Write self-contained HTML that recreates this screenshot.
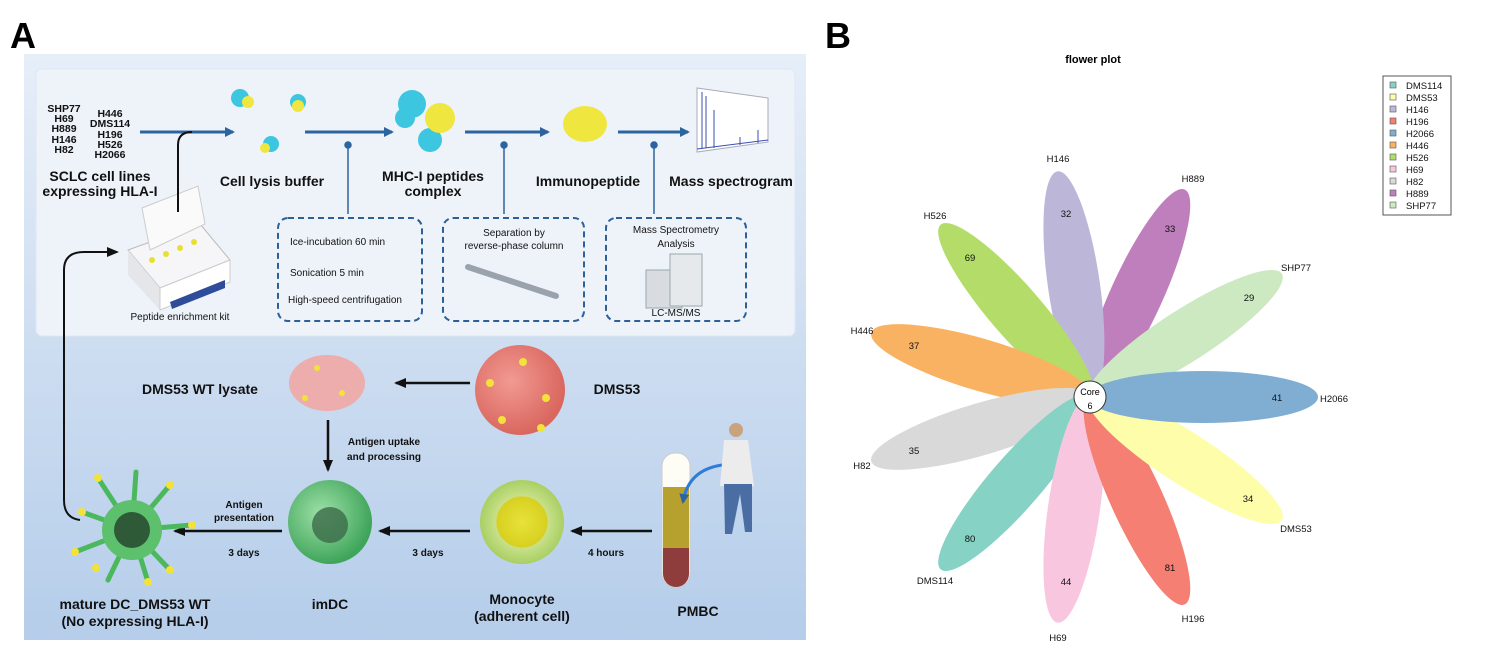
<!DOCTYPE html>
<html><head><meta charset="utf-8"><style>
html,body{margin:0;padding:0;background:#fff;width:1488px;height:651px;overflow:hidden}
svg{display:block;font-family:"Liberation Sans",Arial,sans-serif}
.b{font-weight:bold}
</style></head><body>
<svg width="1488" height="651" viewBox="0 0 1488 651" xmlns="http://www.w3.org/2000/svg">
<defs>
<linearGradient id="bg" x1="0" y1="0" x2="0" y2="1"><stop offset="0" stop-color="#e6eef8"/><stop offset="1" stop-color="#b5cdea"/></linearGradient>
<radialGradient id="dms" cx="0.4" cy="0.4" r="0.6"><stop offset="0" stop-color="#f29a92"/><stop offset="1" stop-color="#d9675f"/></radialGradient>
<radialGradient id="grn" cx="0.4" cy="0.4" r="0.6"><stop offset="0" stop-color="#9fe0a8"/><stop offset="1" stop-color="#3fa55a"/></radialGradient>
<radialGradient id="mono" cx="0.5" cy="0.5" r="0.5"><stop offset="0" stop-color="#e8e23a"/><stop offset="0.6" stop-color="#d8d020"/><stop offset="0.62" stop-color="#c8e08a"/><stop offset="1" stop-color="#a9cf63"/></radialGradient>
<marker id="ab" markerWidth="10" markerHeight="10" refX="8" refY="5" orient="auto" markerUnits="userSpaceOnUse"><path d="M0,0 L10,5 L0,10 z" fill="#2d64a0"/></marker>
<marker id="ak" markerWidth="12" markerHeight="12" refX="10" refY="6" orient="auto" markerUnits="userSpaceOnUse"><path d="M0,1 L12,6 L0,11 z" fill="#111"/></marker>
</defs>
<text x="10" y="48" class="b" font-size="36">A</text>
<text x="825" y="48" class="b" font-size="36">B</text>
<rect x="24" y="54" width="782" height="586" fill="url(#bg)"/>
<rect x="36" y="69" width="759" height="267" rx="6" fill="#eef3fa" stroke="#dfe7f1"/>
<g font-size="10.5" class="b" text-anchor="middle" fill="#111">
<text x="64" y="112">SHP77</text><text x="64" y="122">H69</text><text x="64" y="132">H889</text><text x="64" y="143">H146</text><text x="64" y="153">H82</text>
<text x="110" y="117">H446</text><text x="110" y="127">DMS114</text><text x="110" y="138">H196</text><text x="110" y="148">H526</text><text x="110" y="158">H2066</text>
</g>
<g font-size="14" class="b" text-anchor="middle" fill="#111">
<text x="100" y="181">SCLC cell lines</text><text x="100" y="196">expressing HLA-I</text>
<text x="272" y="186">Cell lysis buffer</text>
<text x="433" y="181">MHC-I peptides</text><text x="433" y="196">complex</text>
<text x="588" y="186">Immunopeptide</text>
<text x="731" y="186">Mass spectrogram</text>
</g>
<g stroke="#2d64a0" stroke-width="3" marker-end="url(#ab)">
<line x1="140" y1="132" x2="233" y2="132"/><line x1="305" y1="132" x2="392" y2="132"/>
<line x1="465" y1="132" x2="548" y2="132"/><line x1="618" y1="132" x2="688" y2="132"/>
</g>
<g stroke="#2d64a0" stroke-width="1.5" fill="#2d64a0">
<line x1="348" y1="145" x2="348" y2="214"/><circle cx="348" cy="145" r="3"/>
<line x1="504" y1="145" x2="504" y2="214"/><circle cx="504" cy="145" r="3"/>
<line x1="654" y1="145" x2="654" y2="214"/><circle cx="654" cy="145" r="3"/>
</g>
<g fill="none" stroke="#2d5f98" stroke-width="2" stroke-dasharray="6,4">
<rect x="278" y="218" width="144" height="103" rx="10"/>
<rect x="443" y="218" width="141" height="103" rx="10"/>
<rect x="606" y="218" width="140" height="103" rx="10"/>
</g>
<g font-size="10" fill="#111">
<text x="290" y="245">Ice-incubation 60 min</text>
<text x="290" y="276">Sonication 5 min</text>
<text x="288" y="303">High-speed centrifugation</text>
<text x="514" y="236" text-anchor="middle">Separation by</text>
<text x="514" y="249" text-anchor="middle">reverse-phase column</text>
<text x="676" y="233" text-anchor="middle">Mass Spectrometry</text>
<text x="676" y="247" text-anchor="middle">Analysis</text>
<text x="676" y="316" text-anchor="middle">LC-MS/MS</text>
<text x="180" y="320" text-anchor="middle">Peptide enrichment kit</text>
</g>
<line x1="468" y1="267" x2="556" y2="296" stroke="#9aa3ad" stroke-width="6" stroke-linecap="round"/>
<rect x="646" y="270" width="36" height="38" fill="#d8dce0" stroke="#9aa"/><rect x="670" y="254" width="32" height="52" fill="#e6e9ec" stroke="#9aa"/>
<polygon points="697,88 768,98 768,142 697,152" fill="#fff" stroke="#aab"/>
<g stroke="#3a4fb0" stroke-width="1"><line x1="702" y1="148" x2="702" y2="92"/><line x1="706" y1="148" x2="706" y2="96"/><line x1="714" y1="148" x2="714" y2="110"/><line x1="740" y1="145" x2="740" y2="137"/><line x1="758" y1="143" x2="758" y2="130"/><line x1="697" y1="149" x2="768" y2="140"/></g>
<g fill="#3cc6e0"><circle cx="240" cy="98" r="9"/><circle cx="298" cy="102" r="8"/><circle cx="271" cy="144" r="8"/><circle cx="412" cy="104" r="14"/><circle cx="430" cy="140" r="12"/><circle cx="405" cy="118" r="10"/></g>
<g fill="#f0e640"><circle cx="248" cy="102" r="6"/><circle cx="298" cy="106" r="6"/><circle cx="265" cy="148" r="5"/><circle cx="440" cy="118" r="15"/><ellipse cx="585" cy="124" rx="22" ry="18"/></g>
<polygon points="128,250 200,224 230,260 160,288" fill="#f6f6f8" stroke="#bbb"/>
<polygon points="128,250 160,288 160,310 128,275" fill="#e4e6ea"/>
<polygon points="160,288 230,260 230,282 160,310" fill="#ffffff" stroke="#ccc"/>
<polygon points="170,302 225,280 225,288 172,309" fill="#2f4c9a"/>
<polygon points="142,208 198,186 205,224 150,250" fill="#fafafa" stroke="#ccc"/>
<g fill="#e6e030"><circle cx="152" cy="260" r="3"/><circle cx="166" cy="254" r="3"/><circle cx="180" cy="248" r="3"/><circle cx="194" cy="242" r="3"/></g>
<path d="M178,212 L178,145 Q178,132 192,132" fill="none" stroke="#111" stroke-width="2"/>
<path d="M80,520 Q64,518 64,500 L64,270 Q64,252 84,252 L117,252" fill="none" stroke="#111" stroke-width="2" marker-end="url(#ak)"/>
<g font-size="14" class="b" text-anchor="middle" fill="#111">
<text x="200" y="394">DMS53 WT lysate</text><text x="617" y="394">DMS53</text>
<text x="135" y="609">mature DC_DMS53 WT</text><text x="135" y="626">(No expressing HLA-I)</text>
<text x="330" y="609">imDC</text>
<text x="522" y="604">Monocyte</text><text x="522" y="621">(adherent cell)</text>
<text x="698" y="616">PMBC</text>
</g>
<g font-size="10" class="b" text-anchor="middle" fill="#111">
<text x="384" y="445">Antigen uptake</text><text x="384" y="460">and processing</text>
<text x="244" y="508">Antigen</text><text x="244" y="521">presentation</text>
<text x="244" y="556">3 days</text><text x="428" y="556">3 days</text><text x="606" y="556">4 hours</text>
</g>
<g stroke="#111" stroke-width="2.5" marker-end="url(#ak)">
<line x1="470" y1="383" x2="396" y2="383"/><line x1="328" y1="420" x2="328" y2="470"/>
<line x1="282" y1="531" x2="175" y2="531"/><line x1="470" y1="531" x2="380" y2="531"/><line x1="652" y1="531" x2="572" y2="531"/>
</g>
<circle cx="520" cy="390" r="45" fill="url(#dms)"/>
<g fill="#f2e23a"><circle cx="523" cy="362" r="4"/><circle cx="490" cy="383" r="4"/><circle cx="546" cy="398" r="4"/><circle cx="502" cy="420" r="4"/><circle cx="541" cy="428" r="4"/></g>
<ellipse cx="327" cy="383" rx="38" ry="28" fill="#f2a5a0" opacity="0.85"/>
<g fill="#f2e23a"><circle cx="317" cy="368" r="3"/><circle cx="342" cy="393" r="3"/><circle cx="305" cy="398" r="3"/></g>
<circle cx="330" cy="522" r="42" fill="url(#grn)"/><circle cx="330" cy="525" r="18" fill="#3b6a48" opacity="0.8"/>
<circle cx="522" cy="522" r="42" fill="url(#mono)"/>
<g stroke="#4cb85e" stroke-width="5" stroke-linecap="round">
<line x1="132" y1="530" x2="98" y2="478"/><line x1="132" y1="530" x2="170" y2="485"/><line x1="132" y1="530" x2="192" y2="525"/><line x1="132" y1="530" x2="75" y2="552"/><line x1="132" y1="530" x2="108" y2="580"/><line x1="132" y1="530" x2="170" y2="570"/><line x1="132" y1="530" x2="136" y2="472"/><line x1="132" y1="530" x2="82" y2="512"/><line x1="132" y1="530" x2="148" y2="582"/></g>
<circle cx="132" cy="530" r="30" fill="#5cc06c"/><circle cx="132" cy="530" r="18" fill="#2f5a38"/>
<g fill="#f2e23a"><circle cx="98" cy="478" r="4"/><circle cx="170" cy="485" r="4"/><circle cx="192" cy="525" r="4"/><circle cx="75" cy="552" r="4"/><circle cx="82" cy="512" r="4"/><circle cx="170" cy="570" r="4"/><circle cx="148" cy="582" r="4"/><circle cx="96" cy="568" r="4"/></g>
<rect x="662" y="453" width="28" height="134" rx="13" fill="#fdfdf6" stroke="#ccc"/>
<rect x="663" y="487" width="26" height="61" fill="#b7a12e"/><path d="M663,548 h26 v26 a13,13 0 0 1 -26 0 z" fill="#8e3c3c"/>
<path d="M722,465 Q688,470 683,502" fill="none" stroke="#2e7bd8" stroke-width="3" marker-end="url(#ab)"/>
<circle cx="736" cy="430" r="7" fill="#c9a27e"/>
<path d="M724,440 h24 l6,46 h-34 z" fill="#ececec"/>
<path d="M724,484 h28 l0,48 h-7 l-5,-38 l-8,40 h-7 z" fill="#4a6ea4"/>
<text x="1093" y="63" font-size="11" class="b" text-anchor="middle">flower plot</text>
<g transform="translate(1090,397)">
<ellipse cx="113" cy="0" rx="115" ry="26" fill="#bf7fbd" transform="rotate(-65.45)"/>
<ellipse cx="113" cy="0" rx="115" ry="26" fill="#bcb7d9" transform="rotate(-98.18)"/>
<ellipse cx="113" cy="0" rx="115" ry="26" fill="#b3dd68" transform="rotate(-130.9)"/>
<ellipse cx="113" cy="0" rx="115" ry="26" fill="#f9b262" transform="rotate(-163.6)"/>
<ellipse cx="113" cy="0" rx="115" ry="26" fill="#d9d9d9" transform="rotate(163.6)"/>
<ellipse cx="113" cy="0" rx="115" ry="26" fill="#86d2c4" transform="rotate(130.9)"/>
<ellipse cx="113" cy="0" rx="115" ry="26" fill="#f9c6e0" transform="rotate(98.18)"/>
<ellipse cx="113" cy="0" rx="115" ry="26" fill="#f47f72" transform="rotate(65.45)"/>
<ellipse cx="113" cy="0" rx="115" ry="26" fill="#fdfdaa" transform="rotate(32.73)"/>
<ellipse cx="113" cy="0" rx="115" ry="26" fill="#cde9c1" transform="rotate(-32.73)"/>
<ellipse cx="113" cy="0" rx="115" ry="26" fill="#7faed2"/>
<circle r="16" fill="#fff" stroke="#333" stroke-width="1"/>
<text y="-2" font-size="9" text-anchor="middle">Core</text><text y="12" font-size="9" text-anchor="middle">6</text>
</g>
<g font-size="9.5" text-anchor="middle" fill="#111">
<text x="1277" y="401">41</text><text x="1248" y="502">34</text><text x="1170" y="571">81</text><text x="1066" y="585">44</text>
<text x="970" y="542">80</text><text x="914" y="454">35</text><text x="914" y="349">37</text><text x="970" y="261">69</text>
<text x="1066" y="217">32</text><text x="1170" y="232">33</text><text x="1249" y="301">29</text>
<text x="1334" y="402">H2066</text><text x="1296" y="532">DMS53</text><text x="1193" y="622">H196</text><text x="1058" y="641">H69</text>
<text x="935" y="584">DMS114</text><text x="862" y="469">H82</text><text x="862" y="334">H446</text><text x="935" y="219">H526</text>
<text x="1058" y="162">H146</text><text x="1193" y="182">H889</text><text x="1296" y="271">SHP77</text>
</g>
<rect x="1383" y="76" width="68" height="139" fill="#fff" stroke="#555"/>
<g stroke="#555" stroke-width="0.6">
<rect x="1390" y="82" width="6" height="6" fill="#86d2c4"/><rect x="1390" y="94" width="6" height="6" fill="#fdfdaa"/><rect x="1390" y="106" width="6" height="6" fill="#bcb7d9"/><rect x="1390" y="118" width="6" height="6" fill="#f47f72"/><rect x="1390" y="130" width="6" height="6" fill="#7faed2"/><rect x="1390" y="142" width="6" height="6" fill="#f9b262"/><rect x="1390" y="154" width="6" height="6" fill="#b3dd68"/><rect x="1390" y="166" width="6" height="6" fill="#f9c6e0"/><rect x="1390" y="178" width="6" height="6" fill="#d9d9d9"/><rect x="1390" y="190" width="6" height="6" fill="#bf7fbd"/><rect x="1390" y="202" width="6" height="6" fill="#cde9c1"/>
</g>
<g font-size="9.5" fill="#111">
<text x="1406" y="89">DMS114</text><text x="1406" y="101">DMS53</text><text x="1406" y="113">H146</text><text x="1406" y="125">H196</text><text x="1406" y="137">H2066</text><text x="1406" y="149">H446</text><text x="1406" y="161">H526</text><text x="1406" y="173">H69</text><text x="1406" y="185">H82</text><text x="1406" y="197">H889</text><text x="1406" y="209">SHP77</text>
</g>
</svg>
</body></html>
